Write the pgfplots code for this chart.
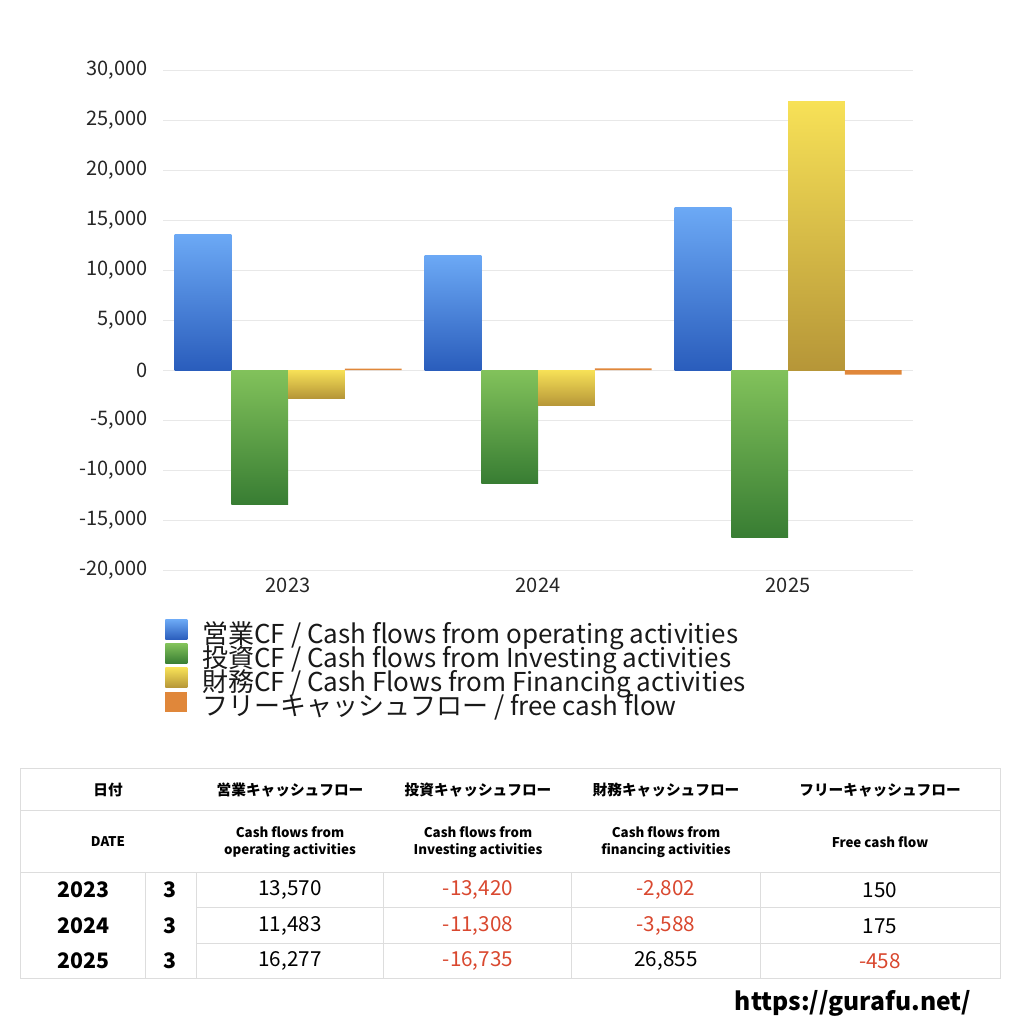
\documentclass[border=0pt]{standalone}
\usepackage{fontspec}
\setmainfont{Noto Sans CJK JP}
\usepackage{pgfplots}
\pgfplotsset{compat=1.18}

\definecolor{opTop}{HTML}{6CA9F5}
\definecolor{opBot}{HTML}{2A5DBC}
\definecolor{invTop}{HTML}{82C25B}
\definecolor{invBot}{HTML}{387D33}
\definecolor{finTop}{HTML}{F7E157}
\definecolor{finBot}{HTML}{B69638}
\definecolor{fcf}{HTML}{E0873A}
\definecolor{gridc}{HTML}{E8E8E8}
\definecolor{rulec}{HTML}{DDDDDD}
\definecolor{neg}{HTML}{D9482F}

% the path is fitted to the 25bp..75bp band of a shading
\pgfdeclareverticalshading{opshade}{100bp}{color(0bp)=(opBot); color(25bp)=(opBot); color(75bp)=(opTop); color(100bp)=(opTop)}
\pgfdeclareverticalshading{invshade}{100bp}{color(0bp)=(invBot); color(25bp)=(invBot); color(75bp)=(invTop); color(100bp)=(invTop)}
\pgfdeclareverticalshading{finshade}{100bp}{color(0bp)=(finBot); color(25bp)=(finBot); color(75bp)=(finTop); color(100bp)=(finTop)}

\newcommand\fs[1]{\fontsize{#1}{#1}\selectfont}

% one \addplot per bar, so that every bar gets its own gradient
\pgfplotsset{
  sq legend/.style={legend image code/.code={
    \path[##1,draw=none] (0pt,-1.5pt) rectangle (16.5pt,13.5pt);}},
  opbar/.style={draw=none, shade, shading=opshade, sq legend, bar shift=-0.3405},
  invbar/.style={draw=none, shade, shading=invshade, sq legend, bar shift=-0.1135},
  finbar/.style={draw=none, shade, shading=finshade, sq legend, bar shift=0.1135},
  fcfbar/.style={draw=none, fill=fcf, sq legend, bar shift=0.3405},
}

\begin{document}
\begin{tikzpicture}
\path (0,0) rectangle (768pt,-768pt);

\begin{axis}[
  at={(122.25pt,-427.5pt)}, anchor=south west,
  scale only axis, width=562.5pt, height=375pt,
  xmin=-0.5, xmax=2.5, ymin=-20000, ymax=30000,
  ybar=0pt, bar width=0.227,
  xtick={0,1,2}, xticklabels={2023,2024,2025},
  ytick={-20000,-15000,...,30000},
  ymajorgrids, grid style={draw=gridc, line width=0.75pt},
  axis line style={draw=none}, major tick length=0pt,
  scaled y ticks=false,
  /pgf/number format/assume math mode=true,
  /pgf/number format/1000 sep={,},
  tick label style={font=\fs{15}, text=black!85},
  y tick label style={inner sep=0pt, xshift=-11.25pt},
  x tick label style={inner sep=0pt, yshift=-6pt},
  legend style={at={(axis description cs:0,0)}, anchor=north west,
    xshift=1.5pt, yshift=-37pt, draw=none, fill=none, inner sep=0pt,
    row sep=-4.5pt, column sep=11.25pt, font=\fs{19.5}, text=black!90,
    nodes={inner sep=0pt, text height=13.5pt, text depth=4.5pt}},
  legend cell align=left,
]
% 営業CF
\addplot[opbar] coordinates {(0,13570)};
\addplot[opbar, forget plot] coordinates {(1,11483)};
\addplot[opbar, forget plot] coordinates {(2,16277)};
% 投資CF
\addplot[invbar] coordinates {(0,-13420)};
\addplot[invbar, forget plot] coordinates {(1,-11308)};
\addplot[invbar, forget plot] coordinates {(2,-16735)};
% 財務CF
\addplot[finbar] coordinates {(0,-2802)};
\addplot[finbar, forget plot] coordinates {(1,-3588)};
\addplot[finbar, forget plot] coordinates {(2,26855)};
% フリーキャッシュフロー
\addplot[fcfbar] coordinates {(0,150) (1,175) (2,-458)};
\legend{営業CF / Cash flows from operating activities,
        投資CF / Cash flows from Investing activities,
        財務CF / Cash Flows from Financing activities,
        フリーキャッシュフロー / free cash flow}
\end{axis}

\begin{scope}[x=0.75pt, y=-0.75pt]
  % table grid
  \draw[rulec, line width=0.75pt] (20,768) rectangle (1000,978);
  \draw[rulec, line width=0.75pt] (20,810) -- (1000,810);
  \draw[rulec, line width=0.75pt] (20,872) -- (1000,872);
  \draw[rulec, line width=0.75pt] (196,907) -- (1000,907);
  \draw[rulec, line width=0.75pt] (196,943) -- (1000,943);
  \foreach \x in {145,196,383,571,760}
    \draw[rulec, line width=0.75pt] (\x,872) -- (\x,978);

  % header row 1
  \begin{scope}[every node/.style={font=\bfseries\fs{11}, inner sep=0pt}]
    \node at (108,790) {日付};
    \node at (290,790) {営業キャッシュフロー};
    \node at (478,790) {投資キャッシュフロー};
    \node at (666,790) {財務キャッシュフロー};
    \node at (880,790) {フリーキャッシュフロー};
  \end{scope}

  % header row 2
  \begin{scope}[every node/.style={font=\bfseries\fs{10}, inner sep=0pt, align=center}]
    \node at (108,842) {DATE};
    \node at (290,842) {Cash flows from\\[3pt]operating activities};
    \node at (478,842) {Cash flows from\\[3pt]Investing activities};
    \node at (666,842) {Cash flows from\\[3pt]financing activities};
    \node at (880,842) {Free cash flow};
  \end{scope}

  % data rows
  \begin{scope}[every node/.style={font=\fs{15.5}, inner sep=0pt}]
    \node[font=\bfseries\fs{16}, anchor=west] at (57,890) {2023};
    \node[font=\bfseries\fs{16}, anchor=west] at (57,926) {2024};
    \node[font=\bfseries\fs{16}, anchor=west] at (57,961) {2025};
    \node[font=\bfseries\fs{16}] at (170,890) {3};
    \node[font=\bfseries\fs{16}] at (170,926) {3};
    \node[font=\bfseries\fs{16}] at (170,961) {3};

    \node at (290,890) {13,570};
    \node[text=neg] at (478,890) {-13,420};
    \node[text=neg] at (666,890) {-2,802};
    \node at (880,890) {150};

    \node at (290,926) {11,483};
    \node[text=neg] at (478,926) {-11,308};
    \node[text=neg] at (666,926) {-3,588};
    \node at (880,926) {175};

    \node at (290,961) {16,277};
    \node[text=neg] at (478,961) {-16,735};
    \node at (666,961) {26,855};
    \node[text=neg] at (880,961) {-458};
  \end{scope}

  \node[font=\bfseries\fs{18.5}, inner sep=0pt] at (853,1003) {https://gurafu.net/};
\end{scope}
\end{tikzpicture}
\end{document}
